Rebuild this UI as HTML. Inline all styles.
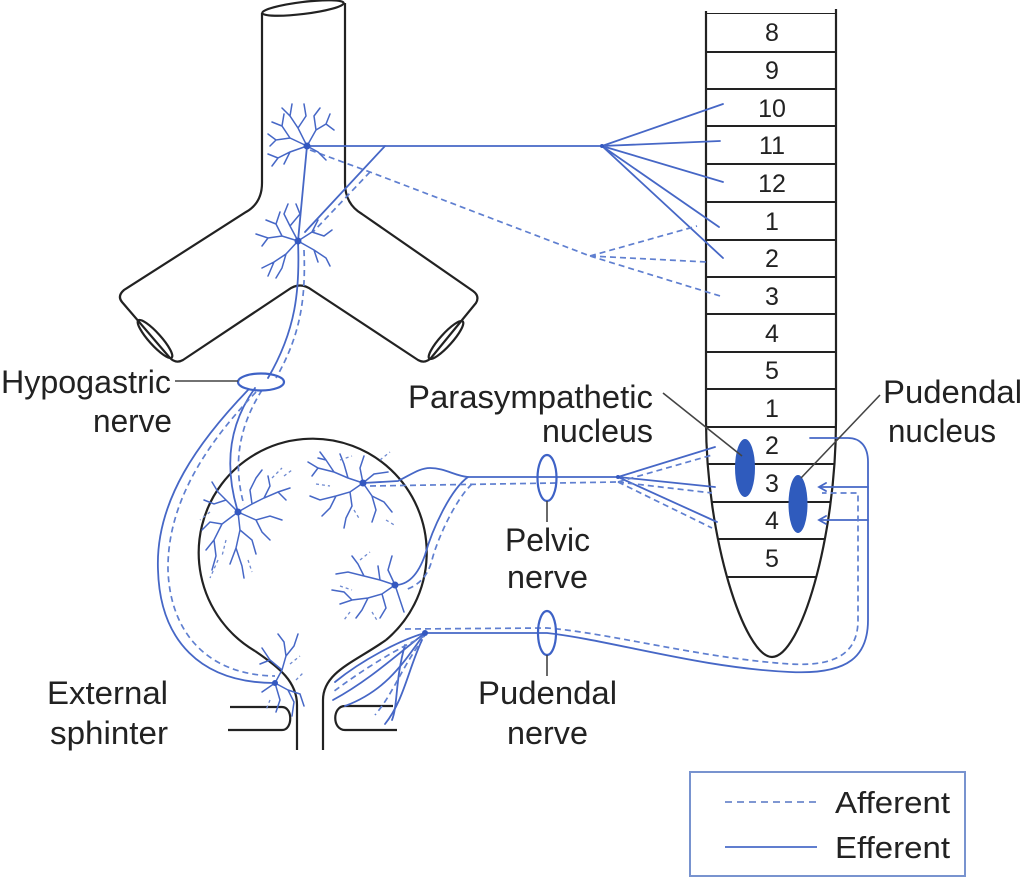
<!DOCTYPE html>
<html><head><meta charset="utf-8"><style>
html,body{margin:0;padding:0;background:#fff;}
svg{display:block;}
text{font-family:"Liberation Sans",Arial,sans-serif;fill:#222;}
</style></head><body>
<svg width="1024" height="878" viewBox="0 0 1024 878" xmlns="http://www.w3.org/2000/svg">
<rect width="1024" height="878" fill="#fff"/>
<defs>
<clipPath id="cord"><path d="M706,13 L706,420 C706,540 745,657 772,657 C800,657 836,540 836,420 L836,13 Z"/></clipPath>
</defs>

<!-- Aorta -->
<g fill="none" stroke="#222" stroke-width="2.2">
<path d="M262,13 L262,183 Q262,203 246,212 L124,290 Q117,296 122,302 L170,358 Q176,364 183,360 L288,290 Q300,281 312,290 L418,360 Q425,364 431,358 L476,303 Q480,296 473,291 L362,214 Q345,204 345,183 L345,3"/>
<ellipse cx="303" cy="8" rx="41" ry="6" transform="rotate(-7 303 8)"/>
<ellipse cx="155" cy="339" rx="25" ry="6" transform="rotate(48 155 339)"/>
<ellipse cx="446" cy="340" rx="25" ry="6" transform="rotate(-48 446 340)"/>
</g>

<!-- Bladder -->
<g fill="none" stroke="#222" stroke-width="2.2">
<path d="M255,651 A114,114 0 1 1 386,640"/>
<path d="M255,651 C280,668 297,682 297,705 L297,750"/>
<path d="M386,640 C355,662 323,672 323,700 L323,750"/>
<path d="M230,707 L282,707 C293,707 293,730 282,730 L228,730"/>
<path d="M393,706 L345,706 C332,706 332,730 345,730 L397,730"/>
</g>

<!-- Spinal cord -->
<g fill="none" stroke="#222" stroke-width="2.2">
<path d="M706,11 L706,420 C706,540 745,657 772,657 C800,657 836,540 836,420 L836,9"/>
<g clip-path="url(#cord)" stroke-width="2">
<line x1="700" y1="13" x2="840" y2="13"/>
<line x1="700" y1="52" x2="840" y2="52"/>
<line x1="700" y1="89" x2="840" y2="89"/>
<line x1="700" y1="126" x2="840" y2="126"/>
<line x1="700" y1="164" x2="840" y2="164"/>
<line x1="700" y1="202" x2="840" y2="202"/>
<line x1="700" y1="240" x2="840" y2="240"/>
<line x1="700" y1="277" x2="840" y2="277"/>
<line x1="700" y1="314" x2="840" y2="314"/>
<line x1="700" y1="352" x2="840" y2="352"/>
<line x1="700" y1="389" x2="840" y2="389"/>
<line x1="700" y1="427" x2="840" y2="427"/>
<line x1="700" y1="464" x2="840" y2="464"/>
<line x1="700" y1="502" x2="840" y2="502"/>
<line x1="700" y1="539" x2="840" y2="539"/>
<line x1="700" y1="577" x2="840" y2="577"/>
</g>
</g>
<g font-size="25" text-anchor="middle">
<text x="772" y="41">8</text>
<text x="772" y="79">9</text>
<text x="772" y="117">10</text>
<text x="772" y="154">11</text>
<text x="772" y="192">12</text>
<text x="772" y="230">1</text>
<text x="772" y="267">2</text>
<text x="772" y="305">3</text>
<text x="772" y="342">4</text>
<text x="772" y="379">5</text>
<text x="772" y="417">1</text>
<text x="772" y="454">2</text>
<text x="772" y="492">3</text>
<text x="772" y="529">4</text>
<text x="772" y="567">5</text>
</g>

<!-- Nuclei -->
<ellipse cx="745" cy="468" rx="10" ry="29" fill="#2f5bbd"/>
<ellipse cx="798" cy="504" rx="9.5" ry="29" fill="#2f5bbd"/>

<!-- Efferent (solid) nerves -->
<g fill="none" stroke="#4667c6" stroke-width="1.8" stroke-linecap="round">
<path d="M307,146 L602,146"/>
<path d="M602,146 L723,104 M602,146 L720,141 M602,146 L723,182 M602,146 L719,227 M602,146 L723,258"/>
<path d="M385,146 L305,232"/>
<path d="M307,146 L298,241"/>
<path d="M298,241 C300,290 296,330 268,378"/>
<path d="M255,388 C232,420 222,460 238,512"/>
<path d="M248,390 C200,440 155,500 158,570 C160,640 200,683 275,683"/>
<path d="M363,483 L398,481 C412,474 420,468 430,468 C445,468 455,476 468,477 L618,477"/>
<path d="M468,477 C450,490 432,530 425,555 C418,575 408,585 395,585"/>
<path d="M618,477 L715,447 M618,477 L715,487 M618,477 L717,522"/>
<path d="M425,633 L547,633 C610,640 700,668 790,672 C850,675 868,655 868,620 L868,462 C868,446 860,438 848,438 L810,438"/>
<path d="M868,487 L820,487 M868,520 L820,520"/>
<path d="M826,483 L819,487 L826,491 M826,516 L819,520 L826,524"/>
<path d="M425,633 C400,640 362,660 335,682"/>
<path d="M425,633 C400,652 370,680 333,700"/>
<path d="M425,633 C405,660 388,690 345,706"/>
<path d="M422,640 C408,670 404,700 385,724"/>
<path d="M405,645 C395,680 398,705 392,720"/>
</g>

<!-- Afferent (dashed) nerves -->
<g fill="none" stroke="#5f7fd0" stroke-width="1.7" stroke-dasharray="6 4">
<path d="M310,150 L370,172 L590,256"/>
<path d="M370,172 L313,232"/>
<path d="M590,256 L697,226 M590,256 L707,262 M590,256 L720,296"/>
<path d="M304,250 C306,300 300,336 276,378"/>
<path d="M262,390 C240,425 232,462 244,505"/>
<path d="M256,392 C210,440 167,500 168,570 C170,630 205,675 275,676"/>
<path d="M370,486 L618,482"/>
<path d="M472,484 C455,500 437,540 432,560 C428,575 420,585 405,590"/>
<path d="M618,482 L712,455 M618,482 L712,493 M618,482 L712,528"/>
<path d="M405,629 L547,628 C610,633 700,658 790,664 C840,667 858,650 858,620 L858,493 L822,493"/>
<path d="M425,636 C398,648 362,670 333,692"/>
<path d="M418,646 C400,672 392,695 375,715"/>
</g>

<!-- Dendrite trees -->
<g fill="none" stroke="#4667c6" stroke-width="1.5" stroke-linecap="round">
<path d="M307,146 L290,138 L276,140 L268,134 M290,138 L282,126 L272,122 M282,126 L284,114 M307,146 L298,128 L290,116 L282,108 M298,128 L306,116 L304,104 M290,116 L292,104 M307,146 L316,130 L314,116 M316,130 L326,124 L330,114 M326,124 L334,130 M307,146 L290,152 L278,158 L272,166 M290,152 L284,164 M278,158 L268,154 M307,146 L318,152 L326,160 M314,116 L320,108 M276,140 L270,146"/>
<path d="M298,241 L282,236 L268,238 L256,234 M282,236 L276,224 L266,220 M276,224 L280,212 M268,238 L262,246 M298,241 L290,226 L284,214 L288,204 M290,226 L300,214 L296,204 M298,241 L312,232 L318,220 M312,232 L324,236 L332,230 M298,241 L314,250 L326,258 L330,266 M314,250 L318,262 M298,241 L286,254 L274,262 L262,268 M286,254 L282,268 L276,278 M274,262 L268,276"/>
<path d="M238,512 L252,504 L264,498 L278,492 L290,488 M264,498 L270,486 L268,476 M278,492 L286,500 M252,504 L250,490 L256,478 M238,512 L226,500 L218,492 M226,500 L214,504 L204,500 M238,512 L256,520 L270,516 L282,520 M256,520 L262,532 L270,540 M238,512 L240,530 L236,548 L230,564 M240,530 L252,540 L256,554 M236,548 L242,566 L244,578 M238,512 L222,524 L214,540 L206,550 M222,524 L210,522 L202,530 M214,540 L216,556 L212,570 M256,478 L262,470 M218,492 L212,482"/>
<path d="M363,483 L348,478 L334,472 L318,468 L308,462 M334,472 L326,460 L320,452 M348,478 L344,464 L340,454 M363,483 L350,492 L336,496 L320,500 L310,496 M336,496 L330,508 L322,516 M350,492 L352,506 L346,518 L344,528 M363,483 L372,496 L376,510 L372,522 M372,496 L384,502 L392,512 M363,483 L374,474 L388,472 M363,483 L360,468 L364,456 M318,468 L312,476 M326,460 L318,458"/>
<path d="M395,585 L380,580 L364,576 L348,572 L336,574 M364,576 L358,564 L352,556 M380,580 L378,566 M395,585 L382,594 L368,598 L352,600 L340,604 M368,598 L362,610 L356,618 M382,594 L386,608 L380,618 M395,585 L400,600 L404,612 M395,585 L388,570 L392,556 M352,600 L344,592 L332,590"/>
<path d="M275,683 L282,670 L286,656 L284,642 M286,656 L294,646 L298,634 M282,670 L270,660 L262,648 M270,660 L260,664 M275,683 L288,690 L294,702 L292,716 M288,690 L300,694 L304,706 M275,683 L280,700 L276,712 M275,683 L262,692 M284,642 L278,634"/>
</g>
<g fill="none" stroke="#6f8ad0" stroke-width="1.3" stroke-dasharray="3 3">
<path d="M272,478 L282,468 M284,476 L292,470 M210,512 L200,520 M218,560 L210,578 M226,540 L222,556 M248,560 L252,572"/>
<path d="M316,484 L330,486 M340,460 L352,456 M380,460 L390,452 M354,510 L360,520 M386,520 L396,526"/>
<path d="M340,586 L352,590 M360,560 L370,552 M372,612 L378,622 M350,612 L344,620"/>
<path d="M290,664 L300,656 M270,700 L266,710 M296,680 L304,672"/>
</g>

<!-- Neuron bodies -->
<g fill="#3458c0">
<circle cx="307" cy="146" r="3.5"/>
<circle cx="298" cy="241" r="3.5"/>
<circle cx="238" cy="512" r="3.5"/>
<circle cx="363" cy="483" r="3.5"/>
<circle cx="395" cy="585" r="3.5"/>
<circle cx="275" cy="683" r="3"/>
<circle cx="425" cy="633" r="3"/>
<circle cx="602" cy="146" r="2"/>
<circle cx="618" cy="477" r="2"/>
</g>

<!-- Nerve rings -->
<g fill="none" stroke="#3e62c6" stroke-width="2.2">
<ellipse cx="261" cy="382" rx="23" ry="8.5"/>
<ellipse cx="547" cy="478" rx="9.5" ry="23"/>
<ellipse cx="547" cy="633" rx="9" ry="22"/>
</g>

<!-- Label leaders -->
<g stroke="#444" stroke-width="1.6" fill="none">
<line x1="175" y1="381" x2="238" y2="381"/>
<line x1="663" y1="393" x2="742" y2="456"/>
<line x1="880" y1="395" x2="801" y2="478"/>
<line x1="547" y1="501" x2="547" y2="522"/>
<line x1="547" y1="655" x2="547" y2="676"/>
</g>

<!-- Labels -->
<g font-size="32">
<text x="1" y="393" textLength="170" lengthAdjust="spacingAndGlyphs">Hypogastric</text>
<text x="93" y="432" textLength="79" lengthAdjust="spacingAndGlyphs">nerve</text>
<text x="408" y="408" textLength="245" lengthAdjust="spacingAndGlyphs">Parasympathetic</text>
<text x="542" y="442" textLength="111" lengthAdjust="spacingAndGlyphs">nucleus</text>
<text x="883" y="403" textLength="139" lengthAdjust="spacingAndGlyphs">Pudendal</text>
<text x="888" y="442" textLength="108" lengthAdjust="spacingAndGlyphs">nucleus</text>
<text x="505" y="551" textLength="85" lengthAdjust="spacingAndGlyphs">Pelvic</text>
<text x="507" y="588" textLength="81" lengthAdjust="spacingAndGlyphs">nerve</text>
<text x="478" y="704" textLength="139" lengthAdjust="spacingAndGlyphs">Pudendal</text>
<text x="507" y="744" textLength="81" lengthAdjust="spacingAndGlyphs">nerve</text>
<text x="47" y="704" textLength="121" lengthAdjust="spacingAndGlyphs">External</text>
<text x="50" y="744" textLength="118" lengthAdjust="spacingAndGlyphs">sphinter</text>
</g>

<!-- Legend -->
<rect x="690" y="772" width="275" height="104" fill="none" stroke="#7893cf" stroke-width="2"/>
<line x1="725" y1="802" x2="817" y2="802" stroke="#7f97d2" stroke-width="2" stroke-dasharray="7 5"/>
<line x1="725" y1="847" x2="817" y2="847" stroke="#4a6cc8" stroke-width="1.8"/>
<g font-size="31">
<text x="835" y="813" textLength="115" lengthAdjust="spacingAndGlyphs">Afferent</text>
<text x="835" y="858" textLength="115" lengthAdjust="spacingAndGlyphs">Efferent</text>
</g>
</svg>
</body></html>
